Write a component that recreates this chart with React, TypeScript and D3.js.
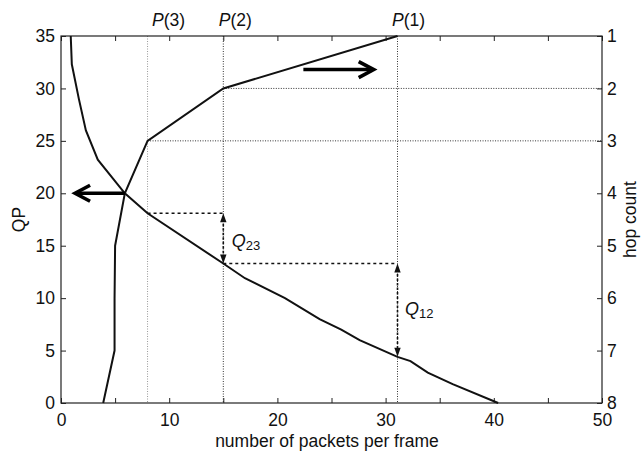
import { useEffect, useRef } from "react";
import * as d3 from "d3";

const W = 641;
const H = 457;
const M = { top: 36, right: 39, bottom: 54, left: 61 };
const FONT = "'Liberation Sans', Arial, Helvetica, sans-serif";
const FS = 17.5;

// QP versus number of packets per frame (left axis)
const qpPackets = [0.9, 1.0, 1.65, 2.3, 3.4, 5.9, 8.0, 15.0, 17.0, 20.7, 23.9, 25.9, 27.6, 31.1, 32.3, 33.9, 36.2, 40.4];
const qpValues = [35, 32.3, 29, 26, 23.2, 20, 18.1, 13.3, 11.9, 10.0, 8.0, 7.0, 6.0, 4.4, 4.0, 2.9, 1.8, 0];

// hop count versus number of packets per frame (right axis)
const hopCounts = [8, 7, 6, 5, 4, 3, 2, 1];
const hopPackets = [3.9, 4.95, 4.95, 5.0, 5.9, 8.0, 15.0, 31.1];

// thresholds P(3), P(2), P(1)
const pNames = ["3", "2", "1"];
const pPackets = [8.0, 15.0, 31.1];
const pHops = [3, 2, 1];
const pQP = [18.1, 13.3, 4.4];
const qNames = ["23", "12"];

// direction arrows in data units
const leftArrow = { from: 5.9, to: 1.3, qp: 20 };
const rightArrow = { from: 22.4, to: 28.9, hop: 1.64 };

const xTicks = d3.range(0, 51, 5);
const qpTicks = d3.range(0, 36, 5);
const hopTicks = [1, 2, 3, 4, 5, 6, 7, 8];

export default function App() {
  const svgRef = useRef<SVGSVGElement>(null);

  useEffect(() => {
    const svg = d3.select(svgRef.current);
    if (!svg.node()) return;
    svg.selectAll("*").remove();

    const x = d3.scaleLinear().domain([0, 50]).range([M.left, W - M.right]);
    const yQP = d3.scaleLinear().domain([0, 35]).range([H - M.bottom, M.top]);
    const yHop = d3.scaleLinear().domain([8, 1]).range([H - M.bottom, M.top]);
    const top = M.top;
    const bottom = H - M.bottom;
    const right = W - M.right;

    const styleAxis = (g: any) => {
      g.select(".domain").remove();
      g.attr("font-family", FONT).attr("font-size", FS);
      g.selectAll("line").attr("stroke", "#222");
      g.selectAll("text").attr("fill", "#111");
    };

    svg.append("rect").attr("width", W).attr("height", H).attr("fill", "#fff");

    // reference lines
    const ref = svg.append("g").attr("fill", "none");
    pPackets.forEach((p, i) => {
      ref
        .append("line")
        .attr("x1", x(p))
        .attr("x2", x(p))
        .attr("y1", top)
        .attr("y2", bottom)
        .attr("stroke", i === 0 ? "#999" : "#333")
        .attr("stroke-width", 1)
        .attr("stroke-dasharray", "1,1.5");
      if (pHops[i] > 1) {
        ref
          .append("line")
          .attr("x1", x(p))
          .attr("x2", right)
          .attr("y1", yHop(pHops[i]))
          .attr("y2", yHop(pHops[i]))
          .attr("stroke", "#333")
          .attr("stroke-width", 1)
          .attr("stroke-dasharray", "1,1.5");
      }
      if (i < pPackets.length - 1) {
        ref
          .append("line")
          .attr("x1", x(p))
          .attr("x2", x(pPackets[i + 1]))
          .attr("y1", yQP(pQP[i]))
          .attr("y2", yQP(pQP[i]))
          .attr("stroke", "#111")
          .attr("stroke-width", 1.4)
          .attr("stroke-dasharray", "3,3");
      }
    });

    // axes
    svg
      .append("g")
      .attr("transform", `translate(0,${bottom})`)
      .call(d3.axisBottom(x).tickValues(xTicks).tickSize(-5).tickPadding(11).tickFormat((d) => (+d % 10 === 0 ? `${d}` : "")))
      .call(styleAxis);
    svg
      .append("g")
      .attr("transform", `translate(0,${top})`)
      .call(d3.axisTop(x).tickValues(xTicks).tickSize(-5).tickFormat(() => ""))
      .call(styleAxis);
    svg
      .append("g")
      .attr("transform", `translate(${M.left},0)`)
      .call(d3.axisLeft(yQP).tickValues(qpTicks).tickSize(-5).tickPadding(6).tickFormat(d3.format("d")))
      .call(styleAxis);
    svg
      .append("g")
      .attr("transform", `translate(${right},0)`)
      .call(d3.axisRight(yHop).tickValues(hopTicks).tickSize(-5).tickPadding(5).tickFormat(d3.format("d")))
      .call(styleAxis);

    svg
      .append("rect")
      .attr("x", M.left)
      .attr("y", top)
      .attr("width", right - M.left)
      .attr("height", bottom - top)
      .attr("fill", "none")
      .attr("stroke", "#222")
      .attr("stroke-width", 1.2);

    // curves
    const qpLine = d3
      .line<number>()
      .x((_d, i) => x(qpPackets[i]))
      .y((d) => yQP(d));
    svg
      .append("path")
      .attr("d", qpLine(qpValues))
      .attr("fill", "none")
      .attr("stroke", "#111")
      .attr("stroke-width", 2);

    const hopLine = d3
      .line<number>()
      .x((_d, i) => x(hopPackets[i]))
      .y((d) => yHop(d));
    svg
      .append("path")
      .attr("d", hopLine(hopCounts))
      .attr("fill", "none")
      .attr("stroke", "#111")
      .attr("stroke-width", 2);

    // Q arrows (dashed, double headed)
    const head = (px: number, py: number, dir: number) =>
      `M${px},${py} L${px - 3.2},${py - dir * 9} L${px + 3.2},${py - dir * 9} Z`;
    qNames.forEach((q, i) => {
      const px = x(pPackets[i + 1]);
      const y1 = yQP(pQP[i]);
      const y2 = yQP(pQP[i + 1]);
      svg
        .append("line")
        .attr("x1", px)
        .attr("x2", px)
        .attr("y1", y1 + 6)
        .attr("y2", y2 - 6)
        .attr("stroke", "#111")
        .attr("stroke-width", 1.6)
        .attr("stroke-dasharray", "2.5,2");
      svg.append("path").attr("d", head(px, y1, -1)).attr("fill", "#111");
      svg.append("path").attr("d", head(px, y2, 1)).attr("fill", "#111");
      const label = svg
        .append("text")
        .attr("x", px + (i === 0 ? 8.5 : 7.5))
        .attr("y", i === 0 ? (y1 + y2) / 2 + 9 : (y1 + y2) / 2 + 5)
        .attr("font-family", FONT)
        .attr("font-size", 18)
        .attr("fill", "#111");
      label.append("tspan").attr("font-style", "italic").text("Q");
      label.append("tspan").attr("font-size", 13).attr("dy", 3).text(q);
    });

    // direction arrows
    const thick = (x1: number, x2: number, yy: number) => {
      const dir = Math.sign(x2 - x1);
      svg
        .append("line")
        .attr("x1", x1)
        .attr("x2", x2 - dir * 2)
        .attr("y1", yy)
        .attr("y2", yy)
        .attr("stroke", "#000")
        .attr("stroke-width", 3.6);
      svg
        .append("path")
        .attr("d", `M${x2 - dir * 15},${yy - 8} L${x2},${yy} L${x2 - dir * 15},${yy + 8}`)
        .attr("fill", "none")
        .attr("stroke", "#000")
        .attr("stroke-width", 3.6)
        .attr("stroke-linejoin", "miter");
    };
    thick(x(leftArrow.from), x(leftArrow.to), yQP(leftArrow.qp));
    thick(x(rightArrow.from), x(rightArrow.to), yHop(rightArrow.hop));

    // P(n) labels
    const pOffset = [21, 12, 11];
    pNames.forEach((n, i) => {
      const t = svg
        .append("text")
        .attr("x", x(pPackets[i]) + pOffset[i])
        .attr("y", 26)
        .attr("text-anchor", "middle")
        .attr("font-family", FONT)
        .attr("font-size", FS)
        .attr("fill", "#111");
      t.append("tspan").attr("font-style", "italic").text("P");
      t.append("tspan").text(`(${n})`);
    });

    // axis titles
    svg
      .append("text")
      .attr("x", 327)
      .attr("y", 447)
      .attr("text-anchor", "middle")
      .attr("font-family", FONT)
      .attr("font-size", FS)
      .attr("fill", "#111")
      .text("number of packets per frame");
    svg
      .append("text")
      .attr("transform", `translate(25,${(top + bottom) / 2}) rotate(-90)`)
      .attr("text-anchor", "middle")
      .attr("font-family", FONT)
      .attr("font-size", FS)
      .attr("fill", "#111")
      .text("QP");
    svg
      .append("text")
      .attr("transform", `translate(636,${(top + bottom) / 2}) rotate(-90)`)
      .attr("text-anchor", "middle")
      .attr("font-family", FONT)
      .attr("font-size", FS)
      .attr("fill", "#111")
      .text("hop count");
  }, []);

  return (
    <svg
      ref={svgRef}
      width={W}
      height={H}
      style={{ position: "absolute", left: 0, top: 0 }}
    />
  );
}
